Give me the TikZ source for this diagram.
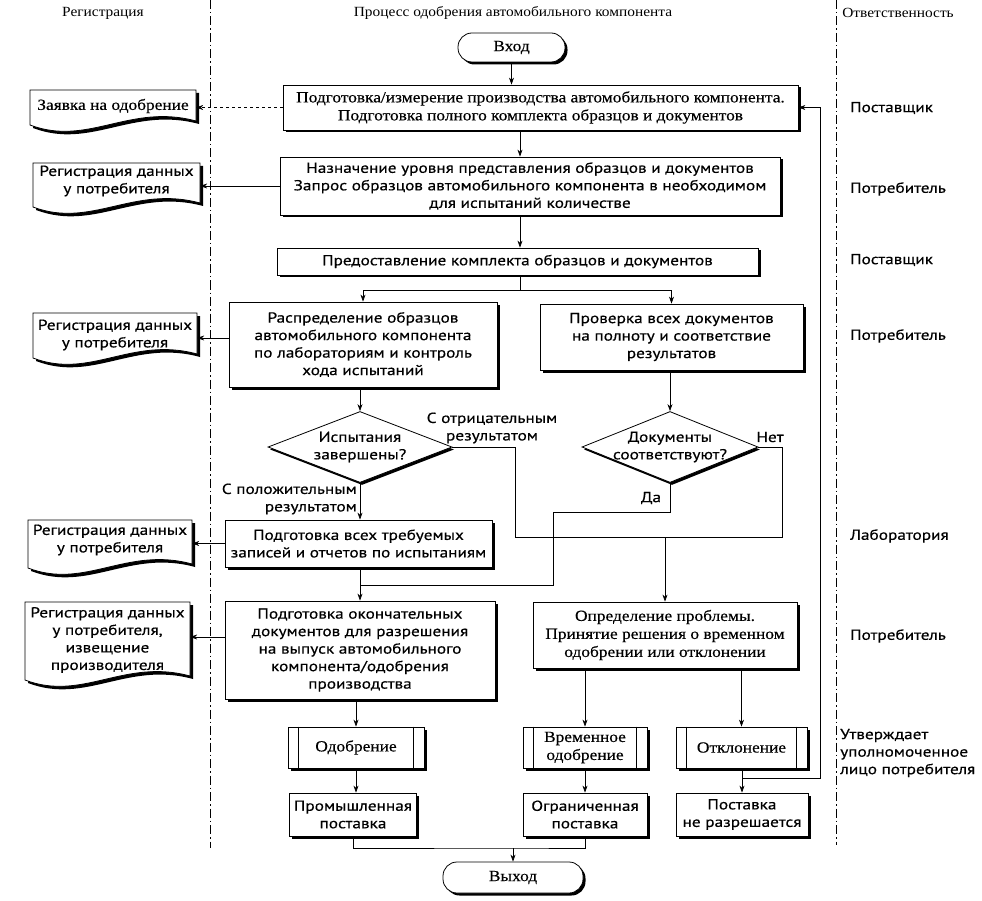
\documentclass[tikz,border=0pt]{standalone}
\usepackage{fontspec}
\setmainfont{PT Sans}[FakeStretch=1.19, FakeBold=0.4]
\newfontfamily\serf{Liberation Serif}[FakeStretch=1.12, FakeBold=0.3]
\newfontfamily\hserf{Liberation Serif}[FakeStretch=1.1]
\usetikzlibrary{shadows,shapes.geometric,arrows.meta,calc}
\tikzset{
  x=1pt, y=-1pt,
  txt/.style={font=\fontsize{14.5}{17.5}\selectfont},
  stxt/.style={font=\serf\fontsize{15.5}{18}\selectfont},
  base/.style={draw, line width=0.8pt, fill=white, align=center, inner sep=0pt, txt},
  box/.style={base, drop shadow={shadow xshift=2.5pt, shadow yshift=-2.5pt, fill=black, opacity=1}},
  term/.style={box, rounded corners=14pt},
  dec/.style={draw, line width=0.8pt, fill=white, inner sep=0pt, shape=diamond, drop shadow={shadow xshift=2pt, shadow yshift=-2.5pt, fill=black, opacity=1}},
  conn/.style={line width=0.6pt},
  arr/.style={conn, -{Stealth[length=7pt,width=5pt]}},
  lane/.style={line width=0.7pt, dash pattern=on 9pt off 3pt on 1.5pt off 3pt},
  lbl/.style={txt, align=center, inner sep=0pt},
  hdr/.style={font=\hserf\fontsize{14}{16}\selectfont, inner sep=0pt},
  resp/.style={txt, anchor=west, inner sep=0pt, align=left},
}
\newcommand\docpath[4]{(#1,#2) -- (#3,#2) -- (#3,{#4-4}) .. controls ({#3-0.4*(#3-#1)},{#4-22}) and ({#1+0.35*(#3-#1)},{#4+22}) .. (#1,#4) -- cycle}
\newcommand\docshape[6]{%
  \fill[black, shift={(3,3)}] \docpath{#1}{#2}{#3}{#4};
  \draw[line width=0.8pt, fill=white] \docpath{#1}{#2}{#3}{#4};
  \node[lbl, minimum width={(#3-#1)*1pt}] (#5) at ({(#1+#3)/2},{#6}) {\strut};
}
\begin{document}
\begin{tikzpicture}
\useasboundingbox (0,0) rectangle (982,901);
\fill[white] (0,0) rectangle (982,901);

% swimlane separators
\draw[lane] (210,0) -- (210,848);
\draw[lane] (836,0) -- (836,845);

% headers
\node[hdr] (h1) at (103,13) {Регистрация};
\node[hdr] (h2) at (513,13) {Процесс одобрения автомобильного компонента};
\node[hdr] (h3) at (898,13) {Ответственность};

% main flow
\node[term, stxt, minimum width=107pt, minimum height=29pt] (in) at (511.5,47.5) {Вход};
\node[box, stxt, minimum width=515pt, minimum height=45pt] (b1) at (540.5,107.5)
  {Подготовка/измерение производства автомобильного компонента.\\Подготовка полного комплекта образцов и документов};
\node[box, minimum width=500pt, minimum height=58pt] (b2) at (530,186)
  {Назначение уровня представления образцов и документов\\Запрос образцов автомобильного компонента в необходимом\\для испытаний количестве};
\node[box, minimum width=481pt, minimum height=27pt] (b3) at (517.5,261.5)
  {Предоставление комплекта образцов и документов};
\node[box, minimum width=268pt, minimum height=85pt] (b4) at (363,344.5)
  {Распределение образцов\\автомобильного компонента\\по лабораториям и контроль\\хода испытаний};
\node[box, minimum width=263pt, minimum height=66pt] (b5) at (671.5,337)
  {Проверка всех документов\\на полноту и соответствие\\результатов};
\node[dec, minimum width=184pt, minimum height=71pt] (d1) at (360,447) {};
\node[lbl] (t1) at (360,447) {Испытания\\завершены?};
\node[dec, minimum width=176pt, minimum height=71pt] (d2) at (670,447) {};
\node[lbl] (t2) at (670,447) {Документы\\соответствуют?};
\node[box, minimum width=267pt, minimum height=47pt] (b6) at (358.5,543.5)
  {Подготовка всех требуемых\\записей и отчетов по испытаниям};
\node[box, minimum width=270pt, minimum height=98pt] (b7) at (360,650)
  {Подготовка окончательных\\документов для разрешения\\на выпуск автомобильного\\компонента/одобрения\\производства};
\node[box, stxt, minimum width=264pt, minimum height=66pt] (b8) at (665,635)
  {Определение проблемы.\\Принятие решения о временном\\одобрении или отклонении};

\node[box, stxt, minimum width=136pt, minimum height=41pt] (p1) at (356,747.5) {Одобрение};
\node[box, stxt, minimum width=124pt, minimum height=41pt] (p2) at (585,747.5) {Временное\\одобрение};
\node[box, stxt, minimum width=131pt, minimum height=41pt] (p3) at (741.5,747.5) {Отклонение};
\foreach \p in {p1,p2,p3}{
  \draw[line width=0.8pt] ([xshift=11pt]\p.north west) -- ([xshift=11pt]\p.south west);
  \draw[line width=0.8pt] ([xshift=-11pt]\p.north east) -- ([xshift=-11pt]\p.south east);
}
\node[box, minimum width=127pt, minimum height=43pt] (e1) at (353,814.5) {Промышленная\\поставка};
\node[box, minimum width=124pt, minimum height=43pt] (e2) at (585,814.5) {Ограниченная\\поставка};
\node[box, minimum width=132pt, minimum height=43pt] (e3) at (742,814.5) {Поставка\\не разрешается};
\node[term, stxt, minimum width=140pt, minimum height=31pt] (out) at (513,877.5) {Выход};

% documents (registration lane)
\docshape{30}{90}{196}{125}{r1}{106}
\node[lbl, stxt] at (r1) {Заявка на одобрение};
\docshape{33}{163}{200}{207}{r2}{181}
\node[lbl] at (r2) {Регистрация данных\\у потребителя};
\docshape{33}{313}{197}{358}{r3}{335}
\node[lbl] at (r3) {Регистрация данных\\у потребителя};
\docshape{28}{520}{192}{568}{r4}{540}
\node[lbl] at (r4) {Регистрация данных\\у потребителя};
\docshape{25}{602}{190}{680}{r5}{640}
\node[lbl] at (r5) {Регистрация данных\\у потребителя,\\извещение\\производителя};

% helper coordinates
\coordinate (cx) at (520,0);
\coordinate (sp) at (520,290);
\coordinate (n1) at (515,537);
\coordinate (n2) at (782,537);
\coordinate (y1) at (553,512);
\coordinate (y2) at (553,585);
\coordinate (fb) at (820,778);
\coordinate (mj) at (513,848);

% connectors
\draw[arr] (in.south) -- (in.south |- b1.north);
\draw[arr] (b1.south -| cx) -- (b2.north -| cx);
\draw[arr] (b2.south -| cx) -- (b3.north -| cx);
\draw[conn] (b3.south -| sp) -- (sp);
\draw[arr] (sp) -| (b4.north);
\draw[arr] (sp) -| (b5.north);
\draw[arr] (b4.south -| d1.north) -- (d1.north);
\draw[arr] (b5.south -| d2.north) -- (d2.north);
\draw[arr] (d1.south) -- (b6.north -| d1.south);
% negative / no path
\draw[conn] (d1.east) -| (n1) -- (n2) |- (d2.east);
\draw[arr] (b8.north |- n1) -- (b8.north);
% yes path
\draw[conn] (d2.south) |- (y1) -- (y2) -- (y2 -| b7.north);
\draw[conn] (b6.south -| b7.north) -- (y2 -| b7.north);
\draw[arr] (y2 -| b7.north) -- (b7.north);
\draw[arr] (b7.south -| p1.north) -- (p1.north);
\draw[arr] (b8.south -| p2.north) -- (p2.north);
\draw[arr] (b8.south -| p3.north) -- (p3.north);
\draw[arr] (p1.south) -- (e1.north -| p1.south);
\draw[arr] (p2.south) -- (e2.north);
\draw[arr] (p3.south -| e3.north) -- (e3.north);
\draw[conn] (fb -| e3.north) -- (fb) -- (fb |- b1.east);
\draw[arr] (fb |- b1.east) -- (b1.east);
\draw[conn] (e1.south) |- (mj) -| (e2.south);
\draw[arr] (mj) -- (out.north);
% to registration documents
\draw[arr, dashed] (b1.west) -- (b1.west -| r1.east);
\draw[arr] (b2.west) -- (b2.west -| r2.east);
\draw[arr] (b4.west |- 0,338) -- (r3.east |- 0,338);
\draw[arr] (b6.west) -- (b6.west -| r4.east);
\draw[arr] (b7.west |- 0,637) -- (r5.east |- 0,637);

% branch labels
\node[lbl] (lneg) at (492,428) {С отрицательным\\результатом};
\node[lbl, anchor=east, align=right] (lpos) at (357,499) {С положительным\\результатом};
\node[lbl] (lno) at (770,437) {Нет};
\node[lbl] (lyes) at (651,498) {Да};

% responsibility
\node[resp] (q1) at (850,108) {Поставщик};
\node[resp] (q2) at (850,189) {Потребитель};
\node[resp] (q3) at (850,260) {Поставщик};
\node[resp] (q4) at (850,336) {Потребитель};
\node[resp] (q5) at (850,536) {Лаборатория};
\node[resp] (q6) at (850,636) {Потребитель};
\node[resp] (q7) at (840,753) {Утверждает\\уполномоченное\\лицо потребителя};
\end{tikzpicture}
\end{document}
